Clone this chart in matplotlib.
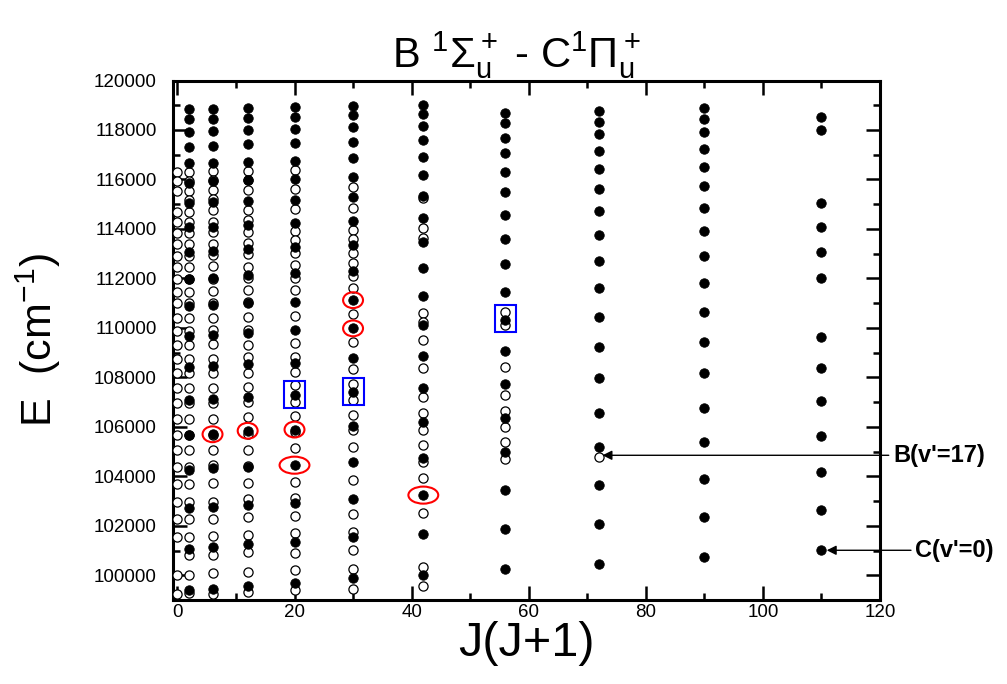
import matplotlib
matplotlib.use('Agg')
import matplotlib.pyplot as plt
from matplotlib.patches import Ellipse, Rectangle
from matplotlib.ticker import MultipleLocator

plt.rcParams['font.family'] = ['Liberation Sans', 'DejaVu Sans']
plt.rcParams['mathtext.fontset'] = 'custom'
plt.rcParams['mathtext.rm'] = 'Liberation Sans'
plt.rcParams['mathtext.it'] = 'Liberation Sans'
plt.rcParams['mathtext.bf'] = 'Liberation Sans:bold'
plt.rcParams['mathtext.sf'] = 'Liberation Sans'

# ---------------- data ----------------
jj_cols = [0, 2, 6, 12, 20, 30, 42, 56, 72, 90, 110]

# B 1Sigma_u+ levels (open circles), one list per J(J+1) column
b_0 = [116310, 115950, 115550, 114700, 114290, 113850, 113390, 112920, 112470, 111970,
       111460, 110990, 110380, 109880, 109300, 108730, 108160, 107550, 106950, 106310,
       105660, 105060, 104360, 103680, 102970, 102270, 101550, 100030, 99260]
b_2 = [116320, 115950, 115550, 115170, 114700, 114300, 113850, 113390, 112920, 112480,
       111980, 111470, 111000, 110390, 109890, 109310, 108730, 108170, 107560, 106950,
       106320, 105670, 105060, 104360, 103690, 102970, 102270, 101560, 100810, 100030, 99270]
b_6 = [116340, 115960, 115570, 115200, 114750, 114300, 113870, 113410, 112940, 112500,
       111990, 111490, 111010, 110410, 109910, 109340, 108760, 108160, 107550, 106950,
       106310, 105670, 105060, 104450, 103710, 102970, 102270, 101580, 100810, 100090, 99230]
b_12 = [116340, 115990, 115570, 114760, 114360, 113890, 113440, 112970, 112470, 112000,
        111530, 111040, 110450, 109910, 109320, 108830, 108180, 107620, 107010, 106400,
        105720, 105080, 104420, 103730, 103100, 102360, 101620, 100940, 100130, 99320]
b_20 = [116380, 115600, 114810, 113930, 113550, 113010, 112540, 112030, 111530, 110480,
        109370, 108830, 108220, 107690, 107010, 106430, 105790, 105130, 103770, 103140,
        102390, 101690, 100920, 100200, 99390]
b_30 = [115680, 114830, 113960, 113580, 113010, 112610, 112100, 111600, 110560, 109440,
        108320, 107750, 107080, 106470, 105870, 105190, 103870, 102470, 101750, 101010,
        100270, 99460]
b_42 = [115240, 114020, 113620, 110610, 110220, 109500, 108360, 107190, 106570, 105890,
        105260, 104580, 103950, 102520, 100340, 99560]
b_56 = [110650, 110110, 108430, 107270, 106650, 106000, 105370, 104690]
b_72 = [104790]
b_90 = []
b_110 = []

# C 1Pi_u+ levels (filled circles)
c_0 = []
c_2 = [118850, 118445, 117930, 117325, 116650, 115870, 115035, 114090, 113050, 111970,
       110880, 109670, 108430, 107080, 105660, 104250, 102700, 101080, 99420]
c_6 = [118850, 118445, 117970, 117350, 116680, 115950, 115100, 114090, 113110, 112000,
       110920, 109710, 108450, 107110, 105700, 104320, 102760, 101150, 99460]
c_12 = [118900, 118500, 118000, 117430, 116720, 115980, 115130, 114160, 113180, 112140,
        110990, 109780, 108540, 107190, 105840, 104380, 102830, 101250, 99560]
c_20 = [118940, 118540, 118040, 117460, 116760, 116010, 115170, 114250, 113280, 112200,
        111060, 109910, 108590, 107280, 105890, 104450, 102920, 101350, 99690]
c_30 = [118970, 118610, 118110, 117530, 116860, 116090, 115280, 114330, 113350, 112300,
        111120, 109980, 108770, 107410, 106030, 104580, 103100, 101530, 99870]
c_42 = [119010, 118650, 118170, 117600, 116920, 116170, 115330, 114450, 113480, 112410,
        111300, 110110, 108860, 107550, 106200, 104760, 103240, 101660, 100030]
c_56 = [118700, 118270, 117690, 117080, 116310, 115480, 114560, 113580, 112570, 111460,
        110310, 109060, 107750, 106360, 104990, 103440, 101860, 100240]
c_72 = [118780, 118340, 117830, 117150, 116410, 115610, 114740, 113750, 112700, 111600,
        110450, 109220, 107980, 106570, 105170, 103640, 102090, 100470]
c_90 = [118880, 118430, 117910, 117240, 116520, 115720, 114860, 113910, 112900, 111800,
        110650, 109440, 108160, 106770, 105390, 103910, 102360, 100740]
c_110 = [118540, 118000, 115030, 114090, 113080, 112000, 109640, 108390, 107040, 105620,
         104180, 102630, 101010]

# highlighted levels (red ellipses: narrow / wide, blue boxes)
red_jj = [6, 12, 20, 30, 30]
red_e = [105700, 105840, 105890, 111120, 109980]
red_wide_jj = [20, 42]
red_wide_e = [104450, 103240]
blue_jj = [20, 30, 56]
blue_e = [107310, 107420, 110380]

# arrow labels
lab_text = ["B(v'=17)", "C(v'=0)"]
lab_jj = [72, 110]
lab_e = [104850, 101010]

# ---------------- plot ----------------
b_sets = [b_0, b_2, b_6, b_12, b_20, b_30, b_42, b_56, b_72, b_90, b_110]
c_sets = [c_0, c_2, c_6, c_12, c_20, c_30, c_42, c_56, c_72, c_90, c_110]

fig = plt.figure(figsize=(10.07, 6.84), dpi=100)
ax = fig.add_axes([0.1721, 0.1228, 0.8739 - 0.1721, 0.8823 - 0.1228])

bx, by, cx, cy = [], [], [], []
for jj, bl, cl in zip(jj_cols, b_sets, c_sets):
    bx += [jj] * len(bl)
    by += bl
    cx += [jj] * len(cl)
    cy += cl

ax.plot(bx, by, 'o', ms=6.6, mfc='white', mec='black', mew=0.9, ls='none', zorder=3)
ax.plot(cx, cy, 'o', ms=6.8, mfc='black', mec='black', mew=0.6, ls='none', zorder=4)

for x, y in zip(red_jj, red_e):
    ax.add_patch(Ellipse((x, y), 3.4, 640, fill=False, ec='red', lw=1.5, zorder=5))
for x, y in zip(red_wide_jj, red_wide_e):
    ax.add_patch(Ellipse((x, y), 5.1, 690, fill=False, ec='red', lw=1.5, zorder=5))
for x, y in zip(blue_jj, blue_e):
    ax.add_patch(Rectangle((x - 1.8, y - 545), 3.6, 1090, fill=False, ec='blue', lw=1.5, zorder=5))

text_x = [122.2, 126.0]
tip_dx = [0.6, 0.9]
for t, x, y, tx, dx in zip(lab_text, lab_jj, lab_e, text_x, tip_dx):
    ax.annotate(t, xy=(x + dx, y), xytext=(tx, y), fontsize=17, fontweight='bold',
                va='center', ha='left', annotation_clip=False,
                arrowprops=dict(arrowstyle='-|>', color='black', lw=1.0,
                                shrinkA=1, shrinkB=0, mutation_scale=14))

ax.set_xlim(-0.7, 120)
ax.set_ylim(99000, 120000)
ax.xaxis.set_major_locator(MultipleLocator(20))
ax.xaxis.set_minor_locator(MultipleLocator(10))
ax.yaxis.set_major_locator(MultipleLocator(2000))
ax.yaxis.set_minor_locator(MultipleLocator(1000))
ax.tick_params(which='both', direction='in', top=True, right=True, width=1.8,
               labelsize=13.5)
ax.tick_params(axis='y', pad=12)
ax.tick_params(axis='x', pad=3)
ax.tick_params(which='major', length=10)
ax.tick_params(which='minor', length=5)
for s in ax.spines.values():
    s.set_linewidth(2.2)

ax.set_xlabel('J(J+1)', fontsize=35, labelpad=0)
ax.set_ylabel(r'E  (cm$^{-1}$)', fontsize=31, labelpad=22)
ax.set_title(r'B $^1\Sigma_u^+$ - C$^1\Pi_u^+$', fontsize=30, pad=4, x=0.485)

fig.savefig('out.png', dpi=100)
